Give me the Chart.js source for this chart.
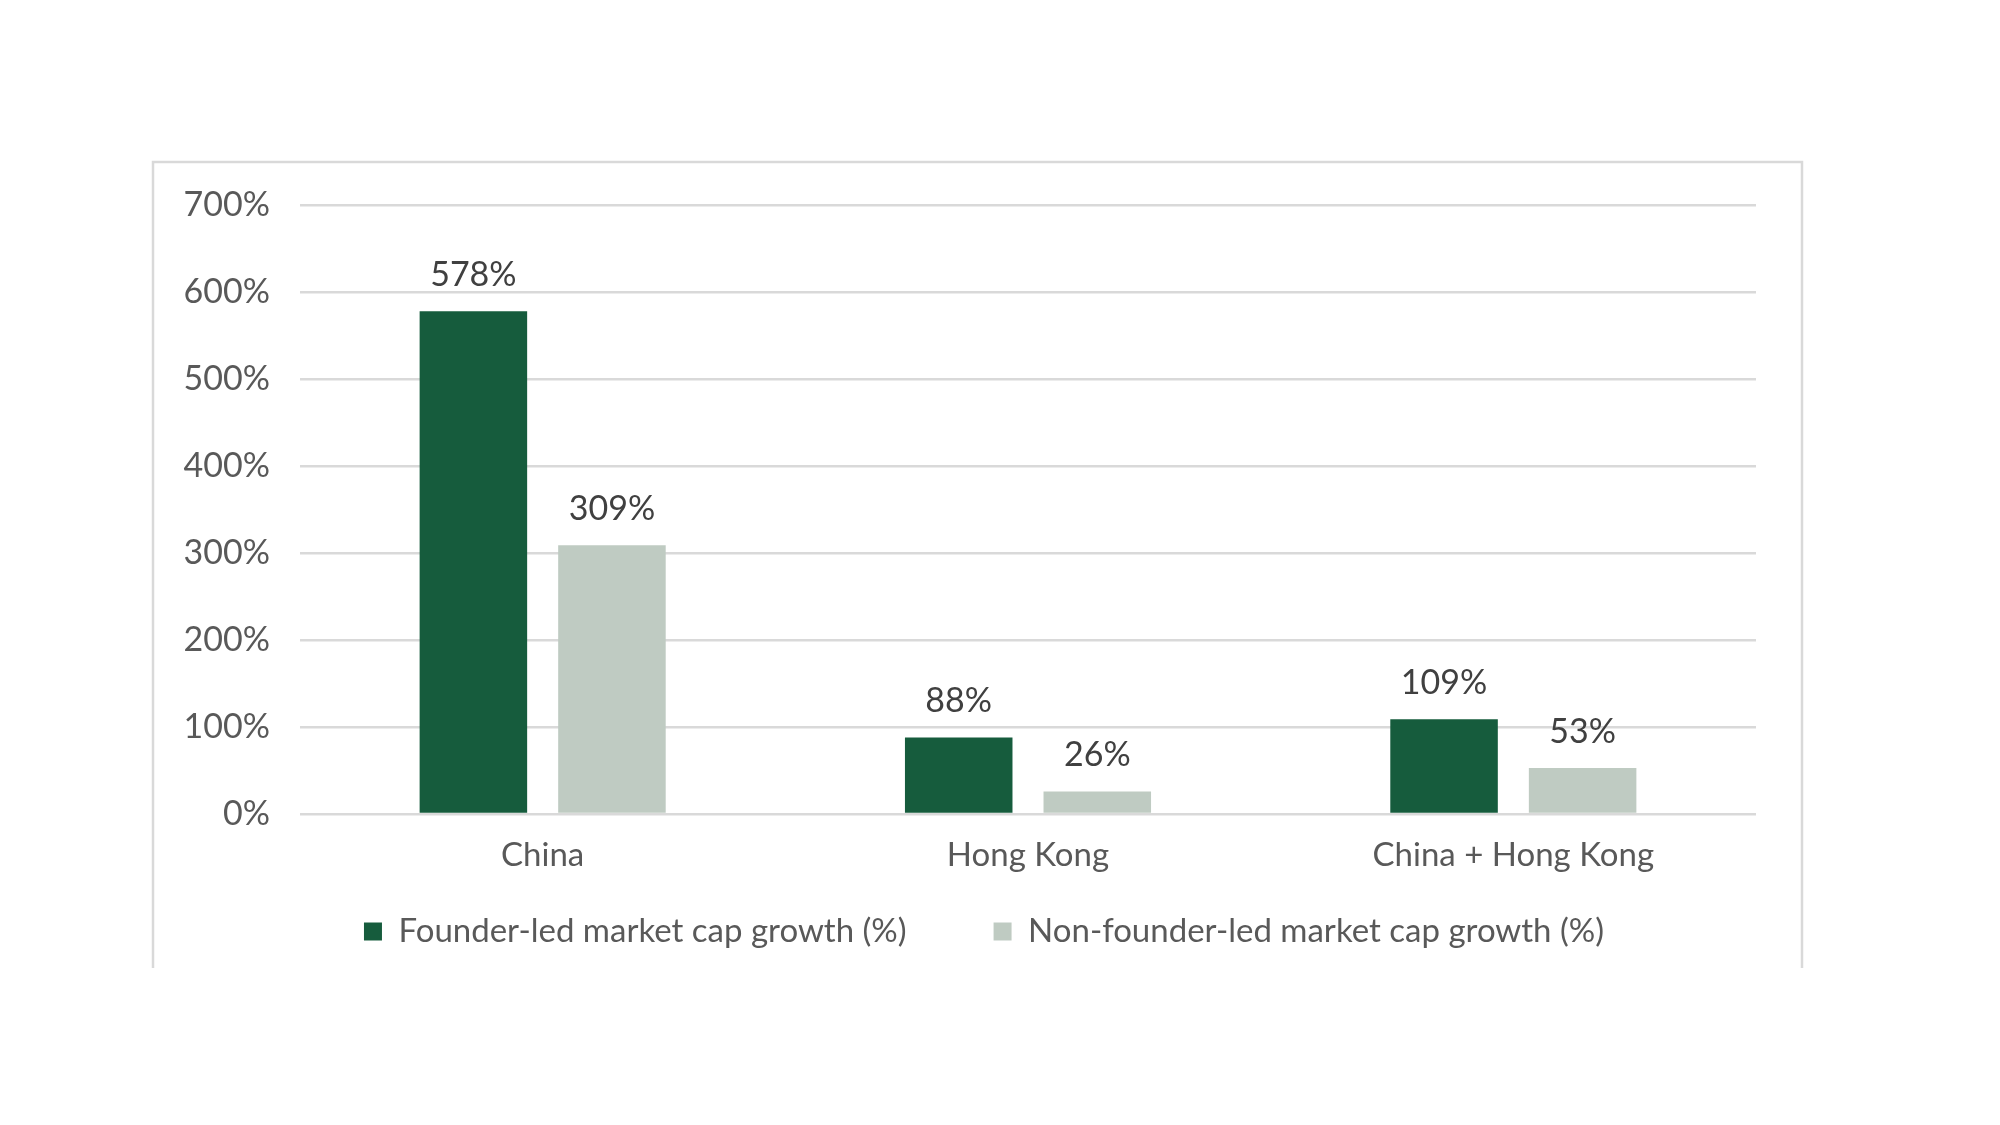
<!DOCTYPE html>
<html>
<head>
<meta charset="utf-8">
<script src="https://cdn.jsdelivr.net/npm/chart.js@4"></script>
<style>
  html, body { margin: 0; padding: 0; background: #ffffff; }
  #wrap { width: 2000px; height: 1125px; }
</style>
</head>
<body>
<div id="wrap"><canvas id="growthChart" width="2000" height="1125"></canvas></div>
<script>
const categories = ['China', 'Hong Kong', 'China + Hong Kong'];
const founderLed = [578, 88, 109];
const nonFounderLed = [309, 26, 53];
const seriesNames = ['Founder-led market cap growth (%)', 'Non-founder-led market cap growth (%)'];

const FONT = 'Lato, "Open Sans", sans-serif';

// light grey frame round the chart, open at the bottom
const framePlugin = {
    id: 'frame',
    beforeDraw(chart) {
        const c = chart.ctx;
        c.save();
        c.strokeStyle = '#d9d9d9';
        c.lineWidth = 2.5;
        c.beginPath();
        c.moveTo(153, 968);
        c.lineTo(153, 162);
        c.lineTo(1802, 162);
        c.lineTo(1802, 968);
        c.stroke();
        c.restore();
    }
};

// the legend padding also sets the gap between items, so nudge the box into place
const legendShift = {
    id: 'legendShift',
    afterLayout(chart) {
        const lg = chart.legend;
        lg.left += 106;
        lg.right += 106;
        lg.top -= 56;
        lg.bottom -= 56;
    }
};

// value labels above every bar
const valueLabels = {
    id: 'valueLabels',
    afterDatasetsDraw(chart) {
        const c = chart.ctx;
        c.save();
        c.font = '34px ' + FONT;
        c.fillStyle = '#404040';
        c.textAlign = 'center';
        c.textBaseline = 'alphabetic';
        chart.data.datasets.forEach((ds, i) => {
            chart.getDatasetMeta(i).data.forEach((bar, j) => {
                c.fillText(ds.data[j] + '%', bar.x, bar.y - 25);
            });
        });
        c.restore();
    }
};

const chart = new Chart(document.getElementById('growthChart').getContext('2d'), {
    type: 'bar',
    data: {
        labels: categories,
        datasets: [{
            label: seriesNames[0],
            data: founderLed,
            backgroundColor: '#165C3D',
            categoryPercentage: 0.571,
            barPercentage: 0.776
        }, {
            label: seriesNames[1],
            data: nonFounderLed,
            backgroundColor: '#BFCBC2',
            categoryPercentage: 0.571,
            barPercentage: 0.776
        }]
    },
    options: {
        responsive: false,
        animation: false,
        devicePixelRatio: 1,
        layout: {
            padding: { left: 0, right: 244, top: 205, bottom: 111 }
        },
        scales: {
            y: {
                min: 0,
                max: 700,
                border: { display: false },
                grid: {
                    color: '#d9d9d9',
                    lineWidth: 2.5,
                    drawTicks: false
                },
                ticks: {
                    stepSize: 100,
                    padding: 30,
                    color: '#595959',
                    font: { family: FONT, size: 34 },
                    callback: (v) => v + '%'
                },
                afterFit(scale) { scale.width = 300; }
            },
            x: {
                border: { display: false },
                grid: { display: false, drawTicks: false },
                ticks: {
                    padding: 22,
                    color: '#595959',
                    font: { family: FONT, size: 33 }
                },
                afterFit(scale) { scale.height = 70; }
            }
        },
        plugins: {
            legend: {
                position: 'bottom',
                labels: {
                    boxWidth: 18,
                    boxHeight: 18,
                    padding: 87,
                    color: '#595959',
                    font: { family: FONT, size: 33 }
                }
            },
            tooltip: { enabled: false }
        }
    },
    plugins: [framePlugin, legendShift, valueLabels]
});
</script>
</body>
</html>
